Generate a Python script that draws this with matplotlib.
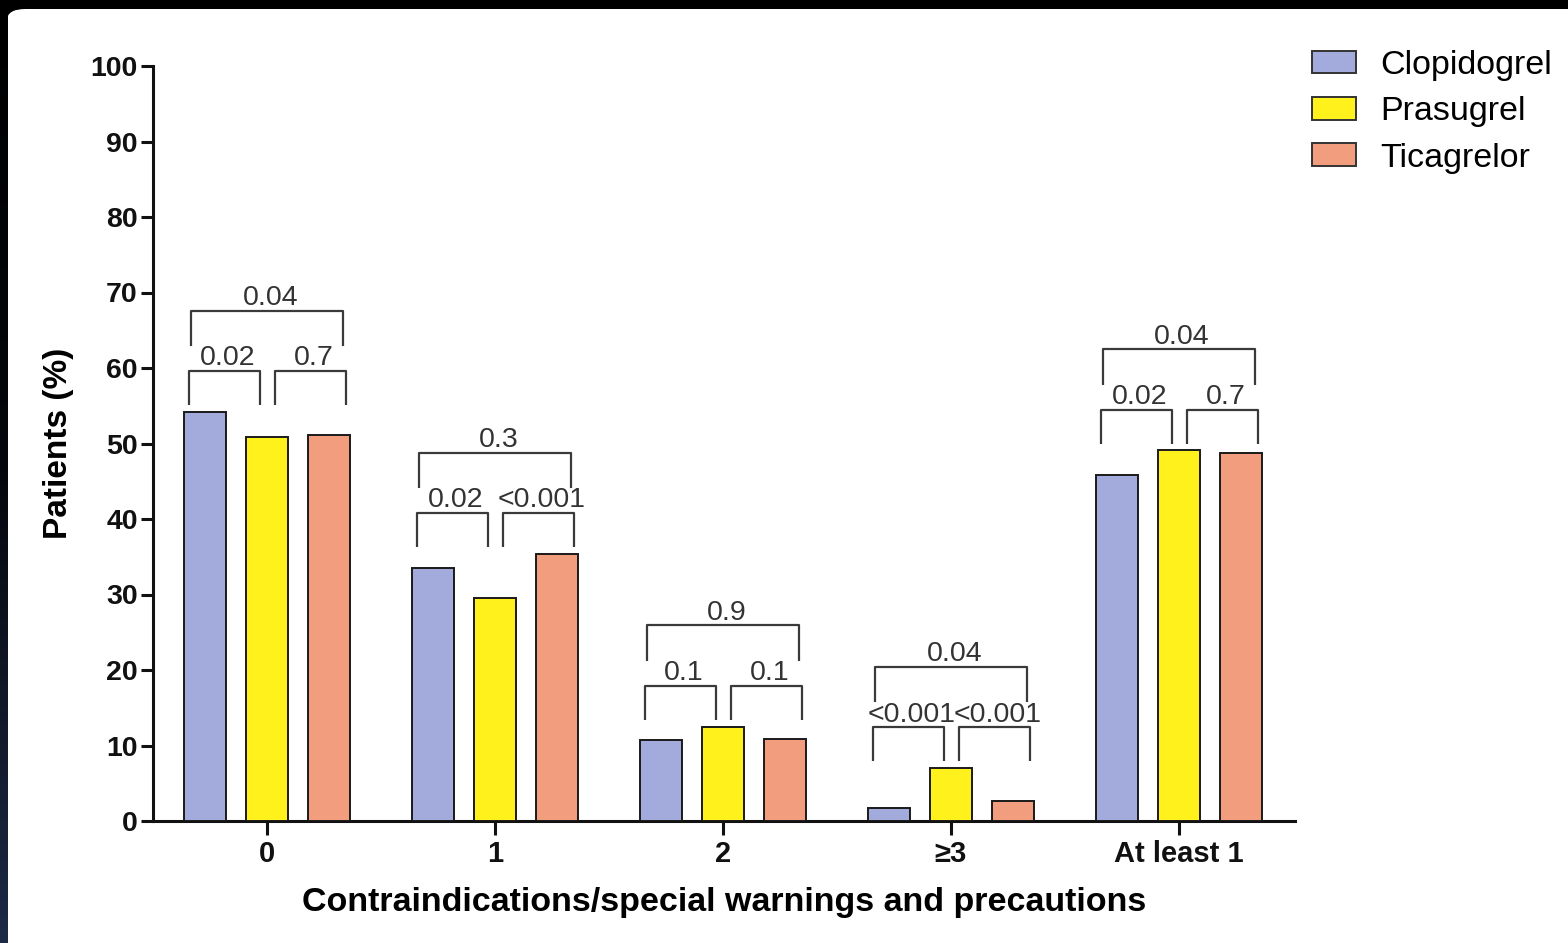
import numpy as np
import matplotlib
matplotlib.use("Agg")
import matplotlib.pyplot as plt
from matplotlib.patches import FancyBboxPatch, Patch

plt.rcParams["font.family"] = ["Liberation Sans", "DejaVu Sans"]

# ---- data ---------------------------------------------------------------
categories  = ["0", "1", "2", "\u22653", "At least 1"]
drugs       = ["Clopidogrel", "Prasugrel", "Ticagrelor"]
clopidogrel = [54.2, 33.5, 10.7, 1.7, 45.8]
prasugrel   = [50.9, 29.5, 12.5, 7.0, 49.1]
ticagrelor  = [51.1, 35.4, 10.9, 2.6, 48.7]
p_left      = ["0.02", "0.02", "0.1", "<0.001", "0.02"]
p_right     = ["0.7", "<0.001", "0.1", "<0.001", "0.7"]
p_outer     = ["0.04", "0.3", "0.9", "0.04", "0.04"]

colors = ["#a2abdb", "#fff21c", "#f29e7e"]
W, H = 1568, 943

fig = plt.figure(figsize=(W / 100, H / 100), dpi=100)
fig.patch.set_facecolor("black")

# dark frame strip on the left (fades to navy at the bottom)
strip = fig.add_axes([0, 0, 8 / W, 1], zorder=-5)
grad = np.linspace(0, 1, 256).reshape(-1, 1)
strip.imshow(grad, aspect="auto", cmap=matplotlib.colors.LinearSegmentedColormap.from_list(
    "s", ["#000000", "#05070c", "#1d2a45"]), extent=[0, 1, 0, 1], origin="upper")
strip.set_axis_off()

# white page with rounded top-left corner
page = FancyBboxPatch((7 / W, -0.05), 1.05, 1 - 9 / H + 0.05,
                      boxstyle="round,pad=0,rounding_size=0.012",
                      transform=fig.transFigure, facecolor="white",
                      edgecolor="none", zorder=-10)
fig.patches.append(page)

ax = fig.add_axes([153 / W, 1 - 821 / H, (1295 - 153) / W, (821 - 66) / H], zorder=1)
ax.set_facecolor("none")

x = np.arange(len(categories))
bw, off = 0.184, 0.272
series = [clopidogrel, prasugrel, ticagrelor]
for i, (vals, c) in enumerate(zip(series, colors)):
    ax.bar(x + (i - 1) * off, vals, width=bw, color=c, edgecolor="#1a1a1a",
           linewidth=1.4, zorder=3, label=drugs[i])

# ---- significance brackets -------------------------------------------------
bc = "#3a3a3a"
def bracket(x0, x1, top, drop, label):
    ax.plot([x0, x0, x1, x1], [top - drop, top, top, top - drop],
            color=bc, linewidth=1.6, solid_capstyle="butt", zorder=4)
    ax.annotate(label, ((x0 + x1) / 2 + 0.015, top), xytext=(0, 4),
                textcoords="offset points", ha="center", va="baseline",
                fontsize=20.5, color="#333333")

for k in range(len(categories)):
    m = max(clopidogrel[k], prasugrel[k], ticagrelor[k])
    low_top = m + 5.4
    high_top = low_top + 8.0
    bracket(x[k] - 0.342, x[k] - 0.031, low_top, 4.5, p_left[k])
    bracket(x[k] + 0.035, x[k] + 0.346, low_top, 4.5, p_right[k])
    bracket(x[k] - 0.333, x[k] + 0.333, high_top, 4.7, p_outer[k])

# ---- axes styling -----------------------------------------------------------
ax.set_xlim(-0.5, 4.51)
ax.set_ylim(0, 100)
ax.set_yticks(np.arange(0, 101, 10))
ax.set_xticks(x)
ax.set_xticklabels(categories)
for s in ["top", "right"]:
    ax.spines[s].set_visible(False)
for s in ["left", "bottom"]:
    ax.spines[s].set_linewidth(2.2)
    ax.spines[s].set_color("#111111")
ax.tick_params(axis="y", length=9, width=2.2, pad=2, labelsize=20.5, colors="#111111")
ax.tick_params(axis="x", length=10, width=2.2, pad=4, labelsize=21, colors="#111111")
for t in ax.get_xticklabels() + ax.get_yticklabels():
    t.set_fontweight("bold")

ax.set_ylabel("Patients (%)", fontsize=24, fontweight="bold", labelpad=12)
ax.set_xlabel("Contraindications/special warnings and precautions",
              fontsize=24.5, fontweight="bold", labelpad=13)

handles = [Patch(facecolor=c, edgecolor="#333333", linewidth=1.4) for c in colors]
fig.legend(handles, drugs, loc="upper left", bbox_to_anchor=(1312 / W, 1 - 50 / H),
           frameon=False, fontsize=24.5, borderpad=0, borderaxespad=0,
           handlelength=1.3, handleheight=0.64, handletextpad=0.72,
           labelspacing=0.45)

fig.savefig("out.png", dpi=100, facecolor=fig.get_facecolor())
